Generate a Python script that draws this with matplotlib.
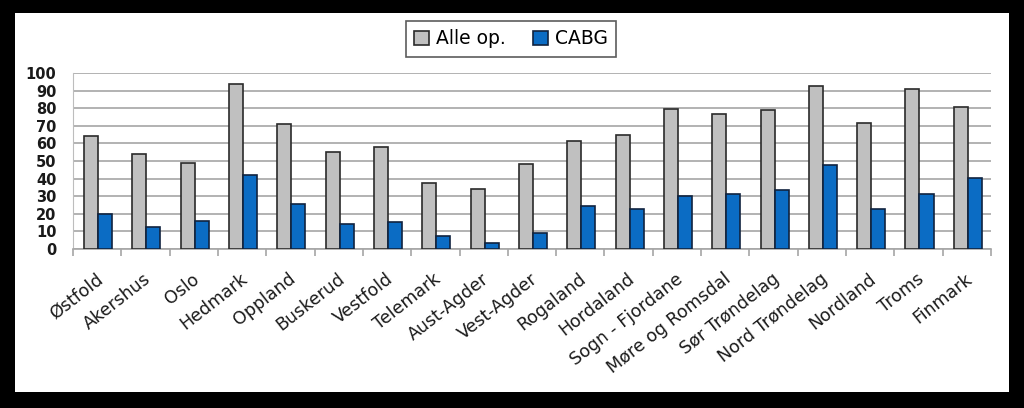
import matplotlib.pyplot as plt
from matplotlib.patches import Rectangle
from matplotlib.transforms import ScaledTranslation
import numpy as np

fylker = ["Østfold", "Akershus", "Oslo", "Hedmark", "Oppland", "Buskerud",
          "Vestfold", "Telemark", "Aust-Agder", "Vest-Agder", "Rogaland",
          "Hordaland", "Sogn - Fjordane", "Møre og Romsdal", "Sør Trøndelag",
          "Nord Trøndelag", "Nordland", "Troms", "Finmark"]
alle_op = [64, 54, 49, 94, 71, 55, 58, 37.5, 34, 48.5, 61.5, 65, 79.5, 76.5,
           79, 92.5, 71.5, 91, 80.5]
cabg = [20, 12.5, 16, 42, 25.5, 14, 15.5, 7.5, 3.5, 9, 24.5, 22.5, 30, 31.5,
        33.5, 47.5, 23, 31.5, 40.5]

fig = plt.figure(figsize=(10.24, 4.08), dpi=100)
fig.patch.set_facecolor("black")
# white panel inside the black frame
fig.patches.append(Rectangle((15 / 1024, 1 - 392 / 408), 994 / 1024, 379 / 408,
                             transform=fig.transFigure, facecolor="white",
                             edgecolor="none", zorder=-1))

ax = fig.add_axes([73 / 1024, 1 - 249 / 408, 918 / 1024, 176 / 408])
ax.set_facecolor("white")

x = np.arange(len(fylker))
w = 0.29
ax.bar(x - w / 2 + 0.02, alle_op, w, color="#c0c0c0", edgecolor="#2a2a2a",
       linewidth=1.2, label="Alle op.", zorder=3)
ax.bar(x + w / 2 + 0.02, cabg, w, color="#0b6cc4", edgecolor="#10233f",
       linewidth=1.2, label="CABG", zorder=3)

ax.set_xlim(-0.5, len(fylker) - 0.5)
ax.set_ylim(0, 100)
ax.set_yticks(range(0, 101, 10))
ax.yaxis.grid(True, color="#a6a6a6", linewidth=1.2, zorder=0)
ax.tick_params(axis="y", length=0, labelsize=10.5, labelcolor="#1a1a1a", pad=12)
for lbl in ax.get_yticklabels():
    lbl.set_fontweight("bold")

ax.set_xticks(x)
ax.set_xticklabels(fylker, rotation=38, ha="right", rotation_mode="anchor",
                   fontsize=12.5, color="#1a1a1a")
ax.tick_params(axis="x", which="major", length=0, pad=15)
# nudge the slanted names a little left, like the original
shift = ScaledTranslation(-0.02, 0, fig.dpi_scale_trans)
for lbl in ax.get_xticklabels():
    lbl.set_transform(lbl.get_transform() + shift)
ax.set_xticks(np.arange(-0.5, len(fylker), 1), minor=True)
ax.tick_params(axis="x", which="minor", length=5, color="#a6a6a6", width=1.2)

for side in ["top", "right"]:
    ax.spines[side].set_visible(False)
ax.spines["left"].set_color("#bdbdbd")
ax.spines["bottom"].set_color("#a6a6a6")
ax.spines["bottom"].set_linewidth(1.2)

leg = fig.legend(loc="center", bbox_to_anchor=(511 / 1024, 1 - 39 / 408),
                 ncol=2, fontsize=13.5, frameon=True, fancybox=False,
                 handlelength=0.8, handleheight=0.8, handletextpad=0.4,
                 columnspacing=1.4, borderpad=0.45)
leg.get_frame().set_edgecolor("#333333")
leg.get_frame().set_linewidth(1.2)

fig.savefig("out.png", dpi=100, facecolor=fig.get_facecolor())
